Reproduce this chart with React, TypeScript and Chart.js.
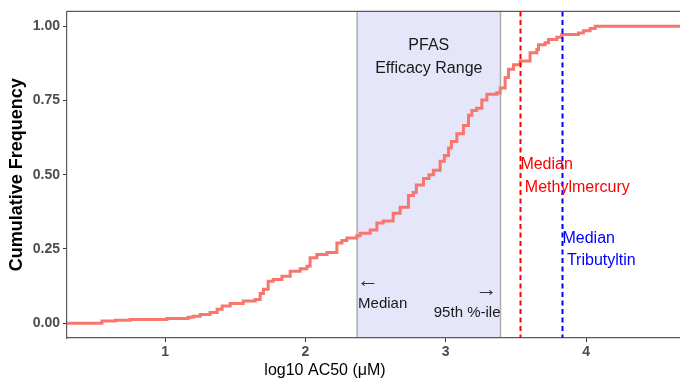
import { useEffect, useRef } from "react";
import { Chart, registerables } from "chart.js";

Chart.register(...registerables);

// Empirical cumulative distribution of log10 AC50 values (step points)
const ecdfX = [
  0.3, 0.549, 0.644, 0.75, 1.012, 1.164, 1.2, 1.25, 1.32, 1.37, 1.406, 1.463, 1.556, 1.641,
  1.677, 1.7, 1.734, 1.77, 1.832, 1.891, 1.962, 2.01, 2.033, 2.081, 2.153, 2.224, 2.26, 2.295,
  2.366, 2.39, 2.461, 2.509, 2.554, 2.625, 2.675, 2.734, 2.768, 2.79, 2.841, 2.88, 2.912, 2.96,
  2.99, 3.02, 3.04, 3.079, 3.126, 3.162, 3.186, 3.22, 3.257, 3.293, 3.364, 3.388, 3.423, 3.447,
  3.483, 3.53, 3.601, 3.649, 3.661, 3.708, 3.732, 3.792, 3.827, 3.946, 3.981, 4.029, 4.065, 4.74,
];
const ecdfY = [
  0, 0.007, 0.01, 0.012, 0.016, 0.02, 0.023, 0.029, 0.036, 0.047, 0.058, 0.066, 0.075, 0.08,
  0.1, 0.114, 0.141, 0.147, 0.158, 0.175, 0.183, 0.192, 0.22, 0.231, 0.238, 0.27, 0.278, 0.287,
  0.294, 0.303, 0.314, 0.337, 0.344, 0.37, 0.39, 0.43, 0.44, 0.465, 0.487, 0.5, 0.515, 0.545,
  0.565, 0.59, 0.612, 0.638, 0.666, 0.7, 0.716, 0.724, 0.752, 0.771, 0.776, 0.792, 0.827, 0.855,
  0.87, 0.883, 0.911, 0.922, 0.938, 0.944, 0.955, 0.963, 0.972, 0.977, 0.985, 0.992, 1, 1,
];

const xTicks = [1, 2, 3, 4];
const yTicks = [0, 0.25, 0.5, 0.75, 1];

// PFAS efficacy range: median to 95th percentile
const efficacyRange = [2.368, 3.39];
const methylmercuryMedian = 3.532;
const tributyltinMedian = 3.832;

const FONT = "'Liberation Sans', Arial, sans-serif";

function drawText(
  ctx: CanvasRenderingContext2D,
  str: string,
  x: number,
  y: number,
  font: string,
  color: string,
  align: CanvasTextAlign
) {
  ctx.save();
  ctx.font = font;
  ctx.fillStyle = color;
  ctx.textAlign = align;
  ctx.textBaseline = "middle";
  ctx.fillText(str, x, y);
  ctx.restore();
}

const rangeShade = {
  id: "rangeShade",
  beforeDraw(chart: any) {
    const { ctx, chartArea, scales } = chart;
    const x0 = scales.x.getPixelForValue(efficacyRange[0]);
    const x1 = scales.x.getPixelForValue(efficacyRange[1]);
    ctx.save();
    ctx.fillStyle = "#E6E6FA";
    ctx.fillRect(x0, chartArea.top, x1 - x0, chartArea.bottom - chartArea.top);
    ctx.strokeStyle = "#ADADAD";
    ctx.lineWidth = 1.5;
    ctx.beginPath();
    ctx.moveTo(x0, chartArea.top);
    ctx.lineTo(x0, chartArea.bottom);
    ctx.moveTo(x1, chartArea.top);
    ctx.lineTo(x1, chartArea.bottom);
    ctx.stroke();
    ctx.restore();
  },
};

const overlays = {
  id: "overlays",
  afterDatasetsDraw(chart: any) {
    const { ctx, chartArea, scales } = chart;
    const xs = scales.x;
    const ys = scales.y;

    // median reference lines
    const vline = (v: number, color: string) => {
      const px = Math.round(xs.getPixelForValue(v)) + 0.5;
      ctx.save();
      ctx.strokeStyle = color;
      ctx.lineWidth = 2;
      ctx.setLineDash([5, 3.5]);
      ctx.beginPath();
      ctx.moveTo(px, chartArea.top);
      ctx.lineTo(px, chartArea.bottom);
      ctx.stroke();
      ctx.restore();
    };
    vline(methylmercuryMedian, "#FF0000");
    vline(tributyltinMedian, "#0000FF");

    // top edge of the panel
    ctx.save();
    ctx.strokeStyle = "#5A5A5A";
    ctx.lineWidth = 1.2;
    ctx.beginPath();
    ctx.moveTo(chartArea.left, chartArea.top);
    ctx.lineTo(chartArea.right, chartArea.top);
    ctx.stroke();
    ctx.restore();

    const r0 = xs.getPixelForValue(efficacyRange[0]);
    const r1 = xs.getPixelForValue(efficacyRange[1]);
    const mid = (r0 + r1) / 2;
    const f16 = `16px ${FONT}`;
    const f15 = `15px ${FONT}`;
    const arrowFont = `22px ${FONT}`;

    drawText(ctx, "PFAS", mid, ys.getPixelForValue(0.936), f16, "#1A1A1A", "center");
    drawText(ctx, "Efficacy Range", mid, ys.getPixelForValue(0.856), f16, "#1A1A1A", "center");
    drawText(ctx, "\u2190", r0, ys.getPixelForValue(0.142), arrowFont, "#333333", "left");
    drawText(ctx, "Median", r0 + 1, ys.getPixelForValue(0.064), f15, "#1A1A1A", "left");
    drawText(ctx, "\u2192", r1 - 3, ys.getPixelForValue(0.112), arrowFont, "#333333", "right");
    drawText(ctx, "95th %-ile", r1, ys.getPixelForValue(0.033), f15, "#1A1A1A", "right");

    const mm = xs.getPixelForValue(methylmercuryMedian);
    drawText(ctx, "Median", mm, ys.getPixelForValue(0.535), f16, "#FF0000", "left");
    drawText(ctx, " Methylmercury", mm, ys.getPixelForValue(0.458), f16, "#FF0000", "left");

    const tb = xs.getPixelForValue(tributyltinMedian);
    drawText(ctx, "Median", tb, ys.getPixelForValue(0.284), f16, "#0000FF", "left");
    drawText(ctx, " Tributyltin", tb, ys.getPixelForValue(0.211), f16, "#0000FF", "left");

    // axis titles
    drawText(ctx, "log10 AC50 (\u03bcM)", 325, 371, `16px ${FONT}`, "#000000", "center");
    ctx.save();
    ctx.translate(17, (chartArea.top + chartArea.bottom) / 2);
    ctx.rotate(-Math.PI / 2);
    drawText(ctx, "Cumulative Frequency", 0, 0, `bold 18px ${FONT}`, "#000000", "center");
    ctx.restore();
  },
};

export default function App() {
  const canvasRef = useRef<HTMLCanvasElement | null>(null);

  useEffect(() => {
    const canvas = canvasRef.current;
    if (!canvas) return;
    const tickFont = { family: FONT, size: 14, weight: "bold" as const };

    const chart = new Chart(canvas, {
      type: "line",
      data: {
        datasets: [
          {
            data: ecdfX.map((x, i) => ({ x, y: ecdfY[i] })),
            borderColor: "#F8766D",
            borderWidth: 3,
            pointRadius: 0,
            stepped: "before",
            fill: false,
          },
        ],
      },
      options: {
        responsive: false,
        animation: false,
        devicePixelRatio: 1,
        layout: { padding: { top: 10, right: 0, left: 0, bottom: 0 } },
        plugins: {
          legend: { display: false },
          tooltip: { enabled: false },
        },
        scales: {
          x: {
            type: "linear",
            min: 0.3,
            max: 4.741,
            afterBuildTicks: (scale: any) => {
              scale.ticks = xTicks.map((v) => ({ value: v }));
            },
            afterFit: (scale: any) => {
              scale.height = 43;
            },
            ticks: {
              color: "#4D4D4D",
              font: tickFont,
              padding: 2,
              maxRotation: 0,
              autoSkip: false,
              callback: (v: any) => String(v),
            },
            grid: {
              drawOnChartArea: false,
              drawTicks: true,
              tickLength: 4,
              color: "#333333",
            },
            border: { display: true, color: "#5A5A5A", width: 1.2 },
          },
          y: {
            type: "linear",
            min: -0.05,
            max: 1.05,
            afterBuildTicks: (scale: any) => {
              scale.ticks = yTicks.map((v) => ({ value: v }));
            },
            afterFit: (scale: any) => {
              scale.width = 67;
            },
            ticks: {
              color: "#4D4D4D",
              font: tickFont,
              padding: 3,
              autoSkip: false,
              callback: (v: any) => Number(v).toFixed(2),
            },
            grid: {
              drawOnChartArea: false,
              drawTicks: true,
              tickLength: 4,
              color: "#333333",
            },
            border: { display: true, color: "#5A5A5A", width: 1.2 },
          },
        },
      },
      plugins: [rangeShade, overlays],
    });

    return () => chart.destroy();
  }, []);

  return (
    <div
      style={{
        position: "fixed",
        left: 0,
        top: 0,
        width: 680,
        height: 381,
        background: "#FFFFFF",
        overflow: "hidden",
      }}
    >
      <canvas ref={canvasRef} width={690} height={381} />
    </div>
  );
}
